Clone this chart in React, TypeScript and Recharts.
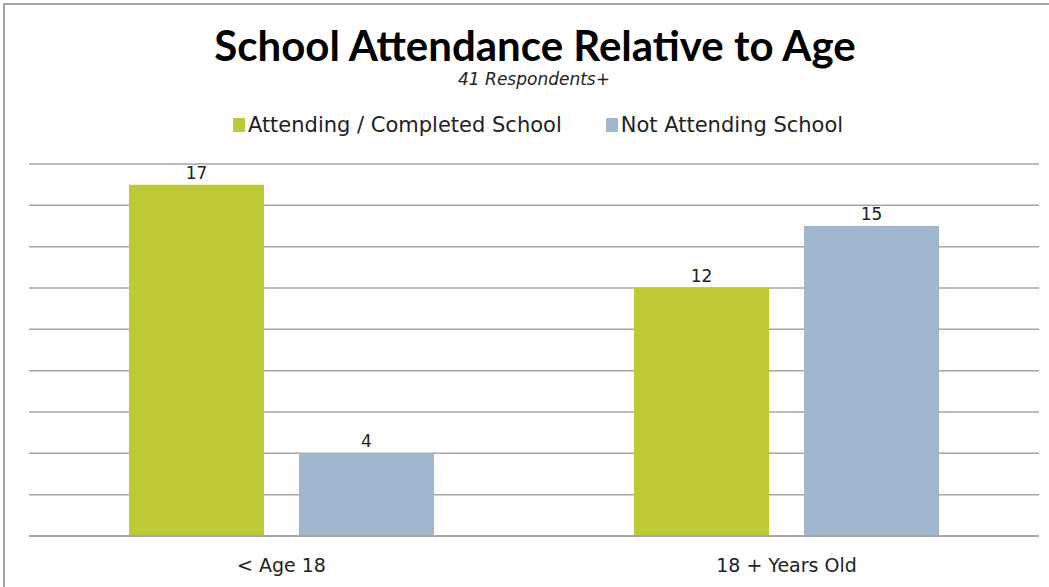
import React from 'react';
import { BarChart, Bar, XAxis, YAxis, CartesianGrid, LabelList } from 'recharts';

const categories = ['< Age 18', '18 + Years Old'];
const attending = [17, 12];
const notAttending = [4, 15];
const yTicks = [0, 2, 4, 6, 8, 10, 12, 14, 16, 18];

const series = [
  { key: 'attending', name: 'Attending / Completed School', color: '#BDC937' },
  { key: 'notAttending', name: 'Not Attending School', color: '#A1B7CD' },
];

const data = categories.map((c, i) => ({
  name: c,
  attending: attending[i],
  notAttending: notAttending[i],
}));

const FONT = '"DejaVu Sans", sans-serif';
const TITLE_FONT = 'Lato, "Open Sans", sans-serif';

export default function App() {
  return (
    <div style={{ position: 'absolute', left: 0, top: 0, width: 1049, height: 587, background: '#fff', overflow: 'hidden', fontFamily: FONT }}>
      <div style={{ position: 'absolute', left: 3, top: 3, width: 1100, height: 700, border: '2px solid #a6a6a6' }} />
      <div style={{ position: 'absolute', left: 0, top: 20, width: 1070, textAlign: 'center', fontSize: 42, fontWeight: 700, color: '#000', lineHeight: '50px', fontFamily: TITLE_FONT }}>
        School Attendance Relative to Age
      </div>
      <div style={{ position: 'absolute', left: 0, top: 68, width: 1068, textAlign: 'center', fontSize: 17, fontStyle: 'italic', color: '#222', lineHeight: '22px' }}>
        41 Respondents+
      </div>
      <div style={{ position: 'absolute', left: 0, top: 111, width: 1076, display: 'flex', justifyContent: 'center', gap: 44, fontSize: 21, color: '#222', lineHeight: '28px' }}>
        {series.map((s) => (
          <div key={s.key} style={{ display: 'flex', alignItems: 'center' }}>
            <div style={{ width: 12, height: 14, background: s.color, marginRight: 3 }} />
            <span>{s.name}</span>
          </div>
        ))}
      </div>
      <div style={{ position: 'absolute', left: 0, top: 0 }}>
        <BarChart
          width={1049}
          height={587}
          data={data}
          margin={{ top: 164, right: 10, bottom: 21, left: 29 }}
          barSize={135}
          barGap={35}
        >
          <CartesianGrid vertical={false} stroke="#a6a6a6" strokeWidth={1.5} />
          <YAxis domain={[0, 18]} ticks={yTicks} hide />
          <XAxis
            dataKey="name"
            height={30}
            axisLine={{ stroke: '#a6a6a6', strokeWidth: 2 }}
            tickLine={false}
            tick={{ fontSize: 19, fill: '#222', fontFamily: FONT }}
            tickMargin={17}
          />
          {series.map((s) => (
            <Bar key={s.key} dataKey={s.key} name={s.name} fill={s.color} isAnimationActive={false}>
              <LabelList dataKey={s.key} position="top" offset={6} style={{ fontSize: 17, fill: '#222', fontFamily: FONT }} />
            </Bar>
          ))}
        </BarChart>
      </div>
    </div>
  );
}
